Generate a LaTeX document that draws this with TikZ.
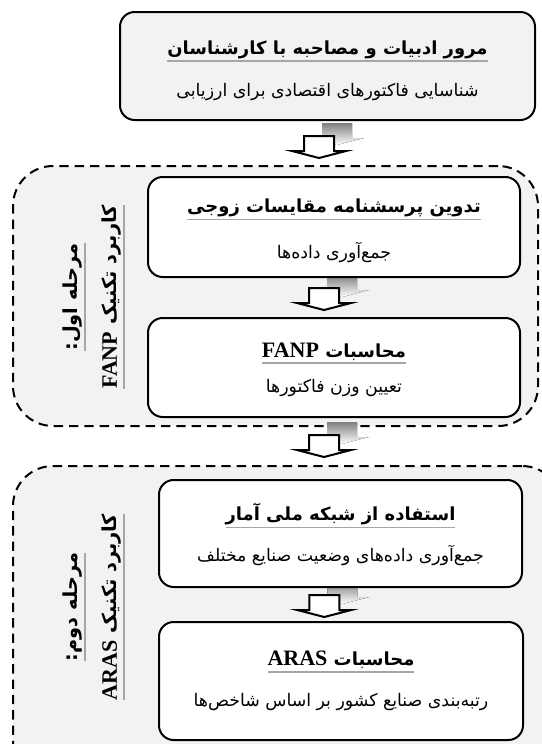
\documentclass[tikz,border=0pt]{standalone}
\usepackage{fontspec}
\usetikzlibrary{calc}
\TeXXeTstate=1
\newfontfamily\farsi[Script=Arabic]{DejaVu Sans}
\newfontfamily\latin{Liberation Serif}
\definecolor{panel}{HTML}{F2F2F2}
\definecolor{ulgray}{HTML}{A6A6A6}
\definecolor{shade}{HTML}{BFBFBF}
\pgfdeclarelayer{groups}
\pgfdeclarelayer{shadows}
\pgfsetlayers{groups,shadows,main}
% gray underline
\newsavebox\ulbox
\newcommand\grayul[1]{\sbox\ulbox{#1}\vtop{\copy\ulbox\kern1.4pt\nointerlineskip\hbox{\color{ulgray}\vrule height 1.3pt depth 0pt width \wd\ulbox}}}
\newcommand\ttl[1]{\grayul{\farsi\bfseries\beginR#1\endR}}
\newcommand\sub[1]{\hbox{\fontsize{13}{15}\farsi\beginR#1\endR}}
\newcommand\lat[1]{\beginL{\latin\bfseries\fontsize{16.5}{16.5}\selectfont#1}\endL}
\newcommand\lift[1]{\vrule height \dimexpr 11.5pt+#1\relax width 0pt}
\tikzset{
  stepbox/.style={draw, line width=1.5pt, rounded corners=11pt, fill=white, align=center, inner sep=0pt, font=\fontsize{13.5}{16}\selectfont},
  headbox/.style={stepbox, fill=panel},
  stagebox/.style={draw, line width=1.5pt, dash pattern=on 7pt off 4.5pt, rounded corners=30pt, fill=panel, inner sep=0pt},
  stagelabel/.style={rotate=90, align=center, inner sep=0pt, font=\fontsize{14.5}{29.5}\selectfont},
  blockarrow/.pic={
    \begin{pgfonlayer}{shadows}
      \fill[shade] (3,-13) -- (33,-13) -- (33,2) -- (45,2) -- (18,9) -- (-9,2) -- (3,2) -- cycle;
    \end{pgfonlayer}
    \draw[line width=1.5pt, fill=white] (-15,0) -- (15,0) -- (15,15) -- (27,15) -- (0,22) -- (-27,15) -- (-15,15) -- cycle;
  }
}
\begin{document}
\begin{tikzpicture}[x=0.75pt,y=-0.75pt]
	\useasboundingbox (0,0) rectangle (542,744);

	%stages
	\begin{pgfonlayer}{groups}
	\node[stagebox, minimum width=525*0.75pt, minimum height=260*0.75pt] (g1) at (275.5,296) {};
	\begin{scope}
	\clip (0,0) rectangle (542,744);
	\node[stagebox, minimum width=549*0.75pt, minimum height=334*0.75pt] (g2) at (287.5,633) {};
	\end{scope}
	\end{pgfonlayer}

	%boxes
	\node[headbox, minimum width=415*0.75pt, minimum height=108*0.75pt] (lit) at (327.5,66)
	  {\lift{6pt}\ttl{مرور ادبیات و مصاحبه با کارشناسان}\\[16pt]\sub{شناسایی فاکتورهای اقتصادی برای ارزیابی}};
	\node[stepbox, minimum width=372*0.75pt, minimum height=100*0.75pt] (quest) at (334,227)
	  {\lift{4.5pt}\ttl{تدوین پرسشنامه مقایسات زوجی}\\[15.5pt]\sub{جمع‌آوری داده‌ها}};
	\node[stepbox, minimum width=372*0.75pt, minimum height=99*0.75pt] (fanp) at (334,367.5)
	  {\lift{3pt}\ttl{محاسبات \lat{FANP}}\\[10.5pt]\sub{تعیین وزن فاکتورها}};
	\node[stepbox, minimum width=363*0.75pt, minimum height=107*0.75pt] (net) at (340.5,533.5)
	  {\lift{3pt}\ttl{استفاده از شبکه ملی آمار}\\[12pt]\sub{جمع‌آوری داده‌های وضعیت صنایع مختلف}};
	\node[stepbox, minimum width=364*0.75pt, minimum height=118*0.75pt] (aras) at (341,681)
	  {\ttl{محاسبات \lat{ARAS}}\\[14.5pt]\sub{رتبه‌بندی صنایع کشور بر اساس شاخص‌ها}};

	%stage labels
	\node[stagelabel] (l1) at ($(g1.west)+(82,1)$)
	  {\ttl{مرحله اول:}\\\ttl{کاربرد تکنیک \lat{FANP}}};
	\node[stagelabel] (l2) at ($(g2.west)+(82,-26)$)
	  {\ttl{مرحله دوم:}\\\ttl{کاربرد تکنیک \lat{ARAS}}};

	%arrows
	\pic at ($(lit.south)!0.5!(lit.south|-g1.north)+(-8.5,-7)$) {blockarrow};
	\pic at ($(quest.south)!0.5!(fanp.north)+(-10,-9.5)$) {blockarrow};
	\pic at ($(fanp.south)!0.5!(fanp.south|-g2.north)+(-10,-6.5)$) {blockarrow};
	\pic at ($(net.south)!0.5!(aras.north)+(-16.5,-9.5)$) {blockarrow};
\end{tikzpicture}
\end{document}
